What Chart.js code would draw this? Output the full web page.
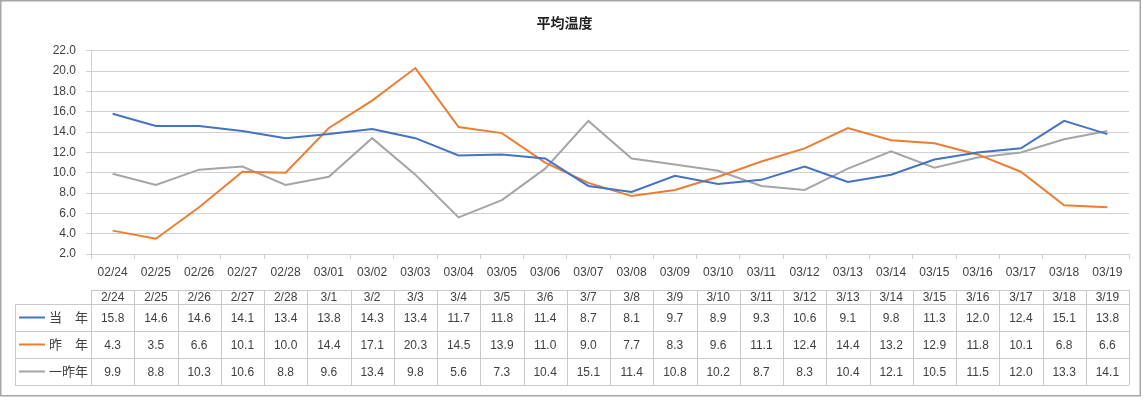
<!DOCTYPE html>
<html lang="ja">
<head>
    <meta charset="UTF-8">
    <title>平均温度</title>
    <script src="https://cdn.jsdelivr.net/npm/chart.js"></script>
    <style>
        html, body { margin: 0; padding: 0; background: #fff; }
        #wrap { width: 1144px; height: 400px; }
    </style>
</head>
<body>
<div id="wrap"><canvas id="chartTemp" width="1144" height="400"></canvas></div>
<script>
    // 軸ラベル（上）と表の見出し（下）
    const axisLabels = ['02/24','02/25','02/26','02/27','02/28','03/01','03/02','03/03','03/04','03/05','03/06','03/07',
                        '03/08','03/09','03/10','03/11','03/12','03/13','03/14','03/15','03/16','03/17','03/18','03/19'];
    const tableLabels = ['2/24','2/25','2/26','2/27','2/28','3/1','3/2','3/3','3/4','3/5','3/6','3/7',
                         '3/8','3/9','3/10','3/11','3/12','3/13','3/14','3/15','3/16','3/17','3/18','3/19'];

    const seriesNames = ['当　年', '昨　年', '一昨年'];
    const thisYear = [15.8,14.6,14.6,14.1,13.4,13.8,14.3,13.4,11.7,11.8,11.4,8.7,8.1,9.7,8.9,9.3,10.6,9.1,9.8,11.3,12.0,12.4,15.1,13.8];
    const lastYear = [4.3,3.5,6.6,10.1,10.0,14.4,17.1,20.3,14.5,13.9,11.0,9.0,7.7,8.3,9.6,11.1,12.4,14.4,13.2,12.9,11.8,10.1,6.8,6.6];
    const twoYearsAgo = [9.9,8.8,10.3,10.6,8.8,9.6,13.4,9.8,5.6,7.3,10.4,15.1,11.4,10.8,10.2,8.7,8.3,10.4,12.1,10.5,11.5,12.0,13.3,14.1];
    const colors = ['#4472C4', '#ED7D31', '#A5A5A5'];

    const yMin = 2, yMax = 22, yStep = 2;

    const FONT = "'Liberation Sans', 'Noto Sans CJK JP', sans-serif";
    const CJK = "'Noto Sans CJK JP', sans-serif";

    // 下のデータ表と外枠を描く
    const dataTablePlugin = {
        id: 'dataTable',
        afterDraw(chart) {
            const ctx = chart.ctx;
            const x = chart.scales.x;
            const step = x.getPixelForValue(1) - x.getPixelForValue(0);
            const left = x.getPixelForValue(0) - step / 2;
            const right = left + step * tableLabels.length;
            const legendLeft = 15;
            const rows = [290, 304, 331, 358, 385];
            const series = [thisYear, lastYear, twoYearsAgo];

            ctx.save();
            ctx.strokeStyle = '#c8c8c8';
            ctx.lineWidth = 1;

            // 横線
            ctx.beginPath();
            ctx.moveTo(left, rows[0] + 0.5); ctx.lineTo(right, rows[0] + 0.5);
            for (let r = 1; r < rows.length; r++) {
                ctx.moveTo(legendLeft, rows[r] + 0.5); ctx.lineTo(right, rows[r] + 0.5);
            }
            // 縦線
            ctx.moveTo(legendLeft + 0.5, rows[1]); ctx.lineTo(legendLeft + 0.5, rows[4]);
            for (let i = 0; i <= tableLabels.length; i++) {
                const px = Math.round(left + step * i) + 0.5;
                ctx.moveTo(px, rows[0]); ctx.lineTo(px, rows[4]);
            }
            ctx.stroke();

            // 見出し
            ctx.fillStyle = '#404040';
            ctx.textAlign = 'center';
            ctx.textBaseline = 'middle';
            ctx.font = '12px ' + FONT;
            tableLabels.forEach((lab, i) => {
                ctx.fillText(lab, x.getPixelForValue(i), (rows[0] + rows[1]) / 2 + 1);
            });

            // 値と凡例
            series.forEach((data, s) => {
                const cy = (rows[s + 1] + rows[s + 2]) / 2 + 1;
                ctx.font = '12px ' + FONT;
                ctx.fillStyle = '#404040';
                ctx.textAlign = 'center';
                data.forEach((v, i) => {
                    ctx.fillText(v.toFixed(1), x.getPixelForValue(i), cy);
                });

                ctx.strokeStyle = colors[s];
                ctx.lineWidth = 2;
                ctx.beginPath();
                ctx.moveTo(19, cy - 1); ctx.lineTo(45, cy - 1);
                ctx.stroke();

                ctx.font = '13px ' + CJK;
                ctx.fillStyle = '#404040';
                ctx.textAlign = 'right';
                ctx.fillText(seriesNames[s], 88, cy - 1);
            });

            // 外枠
            ctx.strokeStyle = '#a6a6a6';
            ctx.lineWidth = 1.5;
            ctx.strokeRect(0.75, 0.75, 1139.5, 395);
            ctx.restore();
        }
    };

    const makeSet = (label, data, color) => ({
        label: label,
        data: data,
        borderColor: color,
        backgroundColor: color,
        borderWidth: 2,
        pointRadius: 0,
        tension: 0,
        fill: false
    });

    new Chart(document.getElementById('chartTemp').getContext('2d'), {
        type: 'line',
        data: {
            labels: axisLabels,
            datasets: [
                makeSet(seriesNames[0], thisYear, colors[0]),
                makeSet(seriesNames[1], lastYear, colors[1]),
                makeSet(seriesNames[2], twoYearsAgo, colors[2])
            ]
        },
        options: {
            responsive: false,
            animation: false,
            layout: { padding: { left: 0, right: 15, top: 0, bottom: 0 } },
            plugins: {
                legend: { display: false },
                tooltip: { enabled: false },
                title: {
                    display: true,
                    text: '平均温度',
                    color: '#222',
                    font: { family: CJK, size: 14, weight: 'bold' },
                    padding: { top: 14, bottom: 20 }
                }
            },
            scales: {
                x: {
                    offset: true,
                    grid: { offset: true, drawOnChartArea: false, drawTicks: true, tickLength: 5, color: '#d0d0d0' },
                    border: { color: '#d0d0d0' },
                    ticks: { color: '#404040', font: { family: FONT, size: 12 }, padding: 6, maxRotation: 0, autoSkip: false },
                    afterFit(s) { s.height = 146; }
                },
                y: {
                    min: yMin,
                    max: yMax,
                    grid: { color: '#d0d0d0', tickLength: 5 },
                    border: { color: '#d0d0d0' },
                    ticks: {
                        stepSize: yStep,
                        color: '#404040',
                        font: { family: FONT, size: 12 },
                        padding: 10,
                        callback: v => v.toFixed(1)
                    },
                    afterFit(s) { s.width = 91; }
                }
            }
        },
        plugins: [dataTablePlugin]
    });
</script>
</body>
</html>
